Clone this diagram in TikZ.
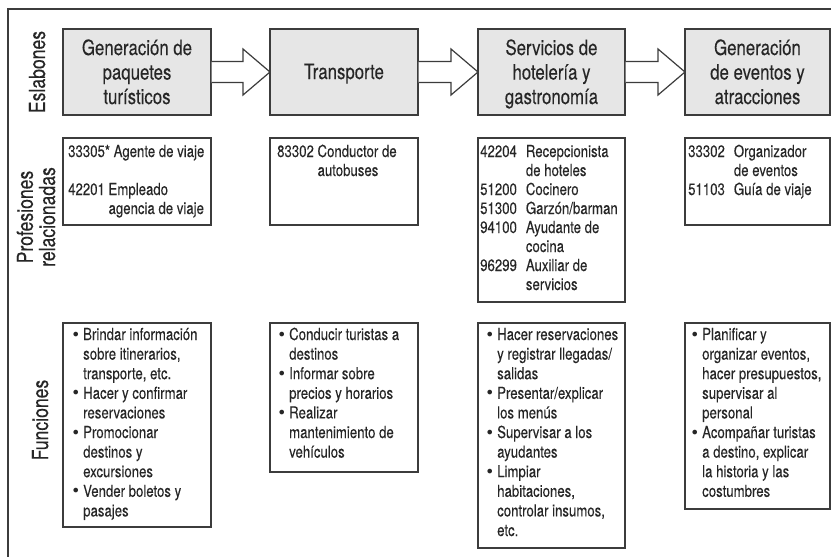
\documentclass[tikz,border=0pt]{standalone}
\usepackage{fontspec}
\setmainfont{TeX Gyre Heros}[FakeStretch=0.8,FakeBold=0.15]
\newfontfamily\bulletfont{DejaVu Sans}
\usetikzlibrary{calc}
\definecolor{ink}{HTML}{262626}
\definecolor{edge}{HTML}{3C3C3C}
\definecolor{boxfill}{HTML}{E6E6E6}
\newcommand{\bl}{\makebox[12pt][l]{\raisebox{0pt}{\bulletfont\fontsize{16}{16}\selectfont •}}}
\newcommand{\ind}{\hspace*{12pt}}
\newcommand{\linkarrow}[2]{%
  \filldraw[bigarrow] ($(#1.east)+(0.6,-10.5)$) -- ($(#2.west)+(-27,-10.5)$)
    -- ($(#2.west)+(-27,-23)$) -- (#2.west) -- ($(#2.west)+(-27,23)$)
    -- ($(#2.west)+(-27,10.5)$) -- ($(#1.east)+(0.6,10.5)$);}
\begin{document}
\begin{tikzpicture}[x=1pt,y=-1pt,
  frameline/.style={draw=edge,line width=1.2pt},
  linkbox/.style={draw=edge,line width=1.2pt,fill=boxfill,anchor=north west,inner sep=0pt,outer sep=0pt},
  infobox/.style={draw=edge,line width=1.2pt,fill=white,anchor=north west,inner sep=0pt,outer sep=0pt},
  title/.style={anchor=base,inner sep=0pt,text=ink,font=\fontsize{21}{24.5}\selectfont},
  small/.style={anchor=base west,inner sep=0pt,text=ink,font=\fontsize{16.5}{19}\selectfont},
  func/.style={anchor=base west,inner sep=0pt,text=ink,font=\fontsize{16.5}{19.6}\selectfont},
  rowlabel/.style={anchor=base,rotate=90,inner sep=0pt,text=ink,font=\fontsize{22}{20.5}\selectfont},
  bigarrow/.style={draw=edge,line width=1.2pt,fill=white,line join=miter}
]
\useasboundingbox (0,0) rectangle (831,557);
\fill[white] (0,0) rectangle (831,557);
% frame
\draw[frameline] (8,557) -- (8,9) -- (831,9);

% row labels
\node[rowlabel] (lab1) at (45,72) {Eslabones};
\node[rowlabel] (lab2) at (55,217) {\begin{tabular}[b]{@{}c@{}}Profesiones\\relacionadas\end{tabular}};
\node[rowlabel] (lab3) at (48,420) {Funciones};

% link boxes
\node[linkbox,minimum width=148pt,minimum height=86pt] (e1) at (63,29) {};
\node[linkbox,minimum width=148pt,minimum height=86pt] (e2) at (270,29) {};
\node[linkbox,minimum width=147pt,minimum height=86pt] (e3) at (478,29) {};
\node[linkbox,minimum width=145pt,minimum height=86pt] (e4) at (685,29) {};

\node[title] (t1) at ($(e1.north)+(0,26)$) {\begin{tabular}[t]{@{}c@{}}Generación de\\paquetes\\turísticos\end{tabular}};
\node[title] (t2) at ($(e2.north)+(0,50)$) {\begin{tabular}[t]{@{}c@{}}Transporte\end{tabular}};
\node[title] (t3) at ($(e3.north)+(0,26)$) {\begin{tabular}[t]{@{}c@{}}Servicios de\\hotelería y\\gastronomía\end{tabular}};
\node[title] (t4) at ($(e4.north)+(0,26)$) {\begin{tabular}[t]{@{}c@{}}Generación\\de eventos y\\atracciones\end{tabular}};

% arrows
\linkarrow{e1}{e2}
\linkarrow{e2}{e3}
\linkarrow{e3}{e4}

% professions
\node[infobox,minimum width=148pt,minimum height=87pt] (p1) at (63,138) {};
\node[infobox,minimum width=148pt,minimum height=87pt] (p2) at (270,138) {};
\node[infobox,minimum width=147pt,minimum height=164pt] (p3) at (478,138) {};
\node[infobox,minimum width=145pt,minimum height=87pt] (p4) at (685,138) {};

\node[small] (pt1) at ($(p1.north west)+(5,19)$) {\begin{tabular}[t]{@{}l@{}}33305* Agente de viaje\\ \\ 42201 Empleado\\ \phantom{42201 }agencia de viaje\end{tabular}};
\node[small] (pt2) at ($(p2.north west)+(7,19)$) {\begin{tabular}[t]{@{}l@{}}83302 Conductor de\\ \phantom{83302 }autobuses\end{tabular}};
\node[small] (pt3) at ($(p3.north west)+(2,19)$) {\begin{tabular}[t]{@{}l@{\hspace{9pt}}l@{}}42204 & Recepcionista\\ & de hoteles\\ 51200 & Cocinero\\ 51300 & Garzón/barman\\ 94100 & Ayudante de\\ & cocina\\ 96299 & Auxiliar de\\ & servicios\end{tabular}};
\node[small] (pt4) at ($(p4.north west)+(3,19)$) {\begin{tabular}[t]{@{}l@{\hspace{9pt}}l@{}}33302 & Organizador\\ & de eventos\\ 51103 & Guía de viaje\end{tabular}};

% functions
\node[infobox,minimum width=148pt,minimum height=204pt] (f1) at (63,323) {};
\node[infobox,minimum width=148pt,minimum height=149pt] (f2) at (270,323) {};
\node[infobox,minimum width=147pt,minimum height=225pt] (f3) at (478,323) {};
\node[infobox,minimum width=145pt,minimum height=186pt] (f4) at (685,323) {};

\node[func] (ft1) at ($(f1.north west)+(8,17)$) {\begin{tabular}[t]{@{}l@{}}\bl Brindar información\\ \ind sobre itinerarios,\\ \ind transporte, etc.\\ \bl Hacer y confirmar\\ \ind reservaciones\\ \bl Promocionar\\ \ind destinos y\\ \ind excursiones\\ \bl Vender boletos y\\ \ind pasajes\end{tabular}};
\node[func] (ft2) at ($(f2.north west)+(7,17)$) {\begin{tabular}[t]{@{}l@{}}\bl Conducir turistas a\\ \ind destinos\\ \bl Informar sobre\\ \ind precios y horarios\\ \bl Realizar\\ \ind mantenimiento de\\ \ind vehículos\end{tabular}};
\node[func] (ft3) at ($(f3.north west)+(7,17)$) {\begin{tabular}[t]{@{}l@{}}\bl Hacer reservaciones\\ \ind y registrar llegadas/\\ \ind salidas\\ \bl Presentar/explicar\\ \ind los menús\\ \bl Supervisar a los\\ \ind ayudantes\\ \bl Limpiar\\ \ind habitaciones,\\ \ind controlar insumos,\\ \ind etc.\end{tabular}};
\node[func] (ft4) at ($(f4.north west)+(5,17)$) {\begin{tabular}[t]{@{}l@{}}\bl Planificar y\\ \ind organizar eventos,\\ \ind hacer presupuestos,\\ \ind supervisar al\\ \ind personal\\ \bl Acompañar turistas\\ \ind a destino, explicar\\ \ind la historia y las\\ \ind costumbres\end{tabular}};
\end{tikzpicture}
\end{document}
